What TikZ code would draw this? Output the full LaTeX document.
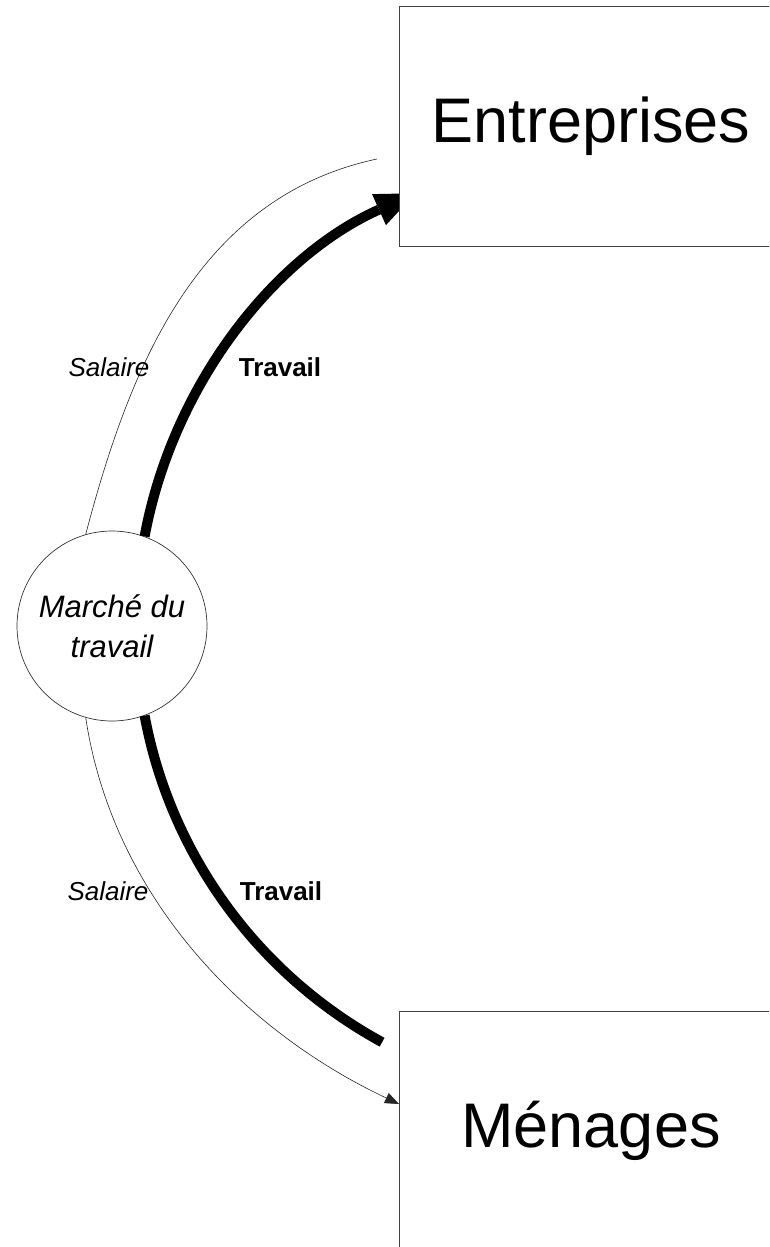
\documentclass[tikz,border=0pt]{standalone}
\usepackage{fontspec}
\setmainfont{Liberation Sans}
\usetikzlibrary{arrows.meta}
\begin{document}
\begin{tikzpicture}[x=1pt,y=-1pt,
  boxst/.style={draw=black!75, line width=1pt, fill=white, minimum width=384pt, minimum height=239pt, inner sep=0pt, font=\fontsize{63}{75}\selectfont},
  mktst/.style={circle, draw=black!80, line width=0.7pt, fill=white, minimum size=190pt, inner sep=0pt, align=center, font=\itshape\fontsize{31}{40}\selectfont},
  heavy/.style={line width=10pt, line cap=butt},
  fine/.style={line width=0.6pt, draw=black!85},
  salst/.style={font=\itshape\fontsize{26}{30}\selectfont, inner sep=0pt},
  travst/.style={font=\bfseries\fontsize{26}{30}\selectfont, inner sep=0pt}
]
\clip (0,0) rectangle (769,1247);
\fill[white] (0,0) rectangle (769,1247);

\node[mktst] (mkt) at (112,626) {Marché du\\travail};

\coordinate (t1) at (415.5,193.3);
\coordinate (t2) at (377,159);
\coordinate (b1) at (382.1,1042.2);
\coordinate (b2) at (399,1104);

% top arcs
\draw[heavy, -{Triangle[length=40pt,width=34pt,line width=0pt]}] (mkt.70) .. controls (172.8,384.6) and (274.4,256.4) .. (t1);
\draw[fine] (mkt.106) .. controls (129,370) and (196,197.5) .. (t2);

% bottom arcs
\draw[heavy] (mkt.-70) .. controls (170.4,854.6) and (257.8,974.4) .. (b1);
\draw[fine, -{Triangle[length=14pt,width=11pt]}] (mkt.-106) .. controls (112,892) and (238,1028) .. (b2);

% boxes
\node[boxst] (ent) at (591,126.5) {Entreprises};
\node[boxst] (men) at (591,1130.5) {Ménages};

% labels
\node[salst, anchor=base] (s1) at (109,376) {Salaire};
\node[travst, anchor=base] (w1) at (280,376) {Travail};
\node[salst, anchor=base] (s2) at (108,900) {Salaire};
\node[travst, anchor=base] (w2) at (281,900) {Travail};
\end{tikzpicture}
\end{document}
